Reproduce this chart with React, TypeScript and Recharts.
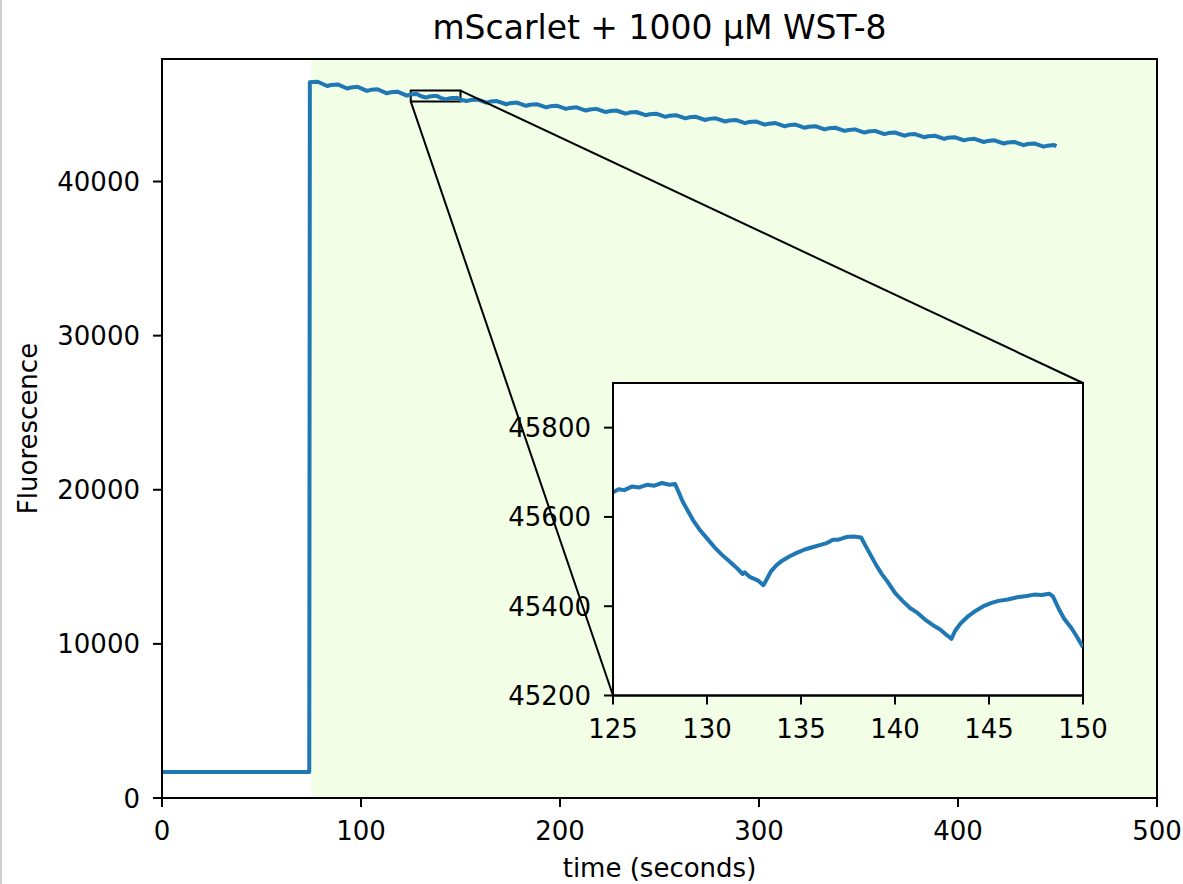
import React from "react";
import {
  Line,
  LineChart,
  ReferenceArea,
  ReferenceLine,
  XAxis,
  YAxis,
} from "recharts";

// Raw trace: baseline, excitation on at ~74 s, then slow bleaching with a 10 s sawtooth.
const RAMP_TIME = [0, 74, 74.3, 76, 78.3, 83, 85, 88.3, 93, 95, 98.3, 103, 105, 108.3, 113, 115, 118.3, 123, 124];
const RAMP_FLUOR = [
  1680, 1680, 46440, 46458, 46472, 46196, 46262, 46301, 46036, 46104, 46142, 45881, 45948, 45986, 45724, 45792,
  45829, 45569, 45612,
];

// Dense samples for the 125–150 s window shown in the inset.
const ZOOM_TIME = [
  125.0, 125.3, 125.6, 126.0, 126.4, 126.8, 127.2, 127.6, 128.0, 128.3, 128.5, 128.7, 129.0, 129.3, 129.6, 130.0,
  130.4, 130.8, 131.2, 131.6, 131.9, 132.0, 132.3, 132.7, 133.0, 133.2, 133.4, 133.7, 134.0, 134.4, 134.8, 135.2,
  135.6, 136.0, 136.4, 136.7, 137.0, 137.4, 137.8, 138.2, 138.4, 138.7, 139.0, 139.3, 139.6, 140.0, 140.4, 140.8,
  141.2, 141.6, 142.0, 142.4, 142.7, 143.0, 143.2, 143.5, 143.9, 144.3, 144.7, 145.1, 145.5, 146.0, 146.5, 147.0,
  147.4, 147.8, 148.2, 148.4, 148.7, 149.0, 149.4, 149.7, 150.0,
];
const ZOOM_FLUOR = [
  45655, 45662, 45660, 45668, 45666, 45672, 45670, 45676, 45672, 45674, 45655, 45635, 45612, 45590, 45572, 45552,
  45532, 45515, 45500, 45485, 45472, 45476, 45465, 45458, 45447, 45462, 45478, 45492, 45502, 45512, 45520, 45527,
  45532, 45537, 45542, 45549, 45549, 45555, 45556, 45554, 45538, 45515, 45492, 45472, 45455, 45430, 45412, 45396,
  45385, 45370, 45358, 45348, 45337, 45327, 45345, 45362, 45378, 45390, 45400, 45407, 45412, 45415, 45420, 45423,
  45426, 45425, 45428, 45422, 45395, 45372, 45350, 45330, 45308,
];

const DECAY_TIME = [
  153, 155, 158.3, 163, 165, 168.3, 173, 175, 178.3, 183, 185, 188.3, 193, 195, 198.3, 203, 205, 208.3, 213, 215,
  218.3, 223, 225, 228.3, 233, 235, 238.3, 243, 245, 248.3, 253, 255, 258.3, 263, 265, 268.3, 273, 275, 278.3, 283,
  285, 288.3, 293, 295, 298.3, 303, 305, 308.3, 313, 315, 318.3, 323, 325, 328.3, 333, 335, 338.3, 343, 345, 348.3,
  353, 355, 358.3, 363, 365, 368.3, 373, 375, 378.3, 383, 385, 388.3, 393, 395, 398.3, 403, 405, 408.3, 413, 415,
  418.3, 423, 425, 428.3, 433, 435, 438.3, 443, 445, 448.3, 449.5,
];
const DECAY_FLUOR = [
  45222, 45285, 45326, 45116, 45186, 45221, 45013, 45085, 45122, 44915, 44980, 45016, 44808, 44880, 44918, 44711,
  44775, 44812, 44605, 44676, 44714, 44507, 44571, 44608, 44401, 44473, 44510, 44303, 44367, 44404, 44197, 44269,
  44306, 44099, 44163, 44200, 43993, 44065, 44102, 43895, 43959, 43996, 43789, 43861, 43898, 43691, 43755, 43792,
  43585, 43657, 43694, 43487, 43551, 43588, 43381, 43453, 43490, 43283, 43347, 43384, 43177, 43249, 43286, 43079,
  43143, 43180, 42973, 43045, 43082, 42875, 42939, 42976, 42769, 42841, 42878, 42671, 42735, 42772, 42565, 42637,
  42674, 42467, 42531, 42568, 42361, 42433, 42470, 42263, 42327, 42364, 42300,
];

const X_TICKS = [0, 100, 200, 300, 400, 500];
const Y_TICKS = [0, 10000, 20000, 30000, 40000];
const ZOOM_X_TICKS = [125, 130, 135, 140, 145, 150];
const ZOOM_Y_TICKS = [45200, 45400, 45600, 45800];

const LIGHT_ON = 75;
const X_MAX = 500;
const Y_MAX = 47950;
const ZOOM_X = [125, 150];
const ZOOM_Y = [45200, 45900];

const toRows = (ts: number[], vs: number[]) => ts.map((t, i) => ({ t, v: vs[i] }));
const mainData = [
  ...toRows(RAMP_TIME, RAMP_FLUOR),
  ...toRows(ZOOM_TIME, ZOOM_FLUOR),
  ...toRows(DECAY_TIME, DECAY_FLUOR),
];
const zoomData = toRows(ZOOM_TIME, ZOOM_FLUOR);

const W = 1183;
const H = 884;
const FONT = "DejaVu Sans, sans-serif";
const FS = 26;
const BLUE = "#1f77b4";

// main plot box (px)
const P = { left: 162, right: 1157, top: 59, bottom: 798 };
// inset plot box (px)
const IN = { left: 613, right: 1083, top: 383, bottom: 695.5 };
const IN_PAD = { left: 120, top: 10, right: 50, bottom: 50 };

// pixel -> main data units, used to anchor the connector lines on the inset corners
const pxToT = (px: number) => ((px - P.left) / (P.right - P.left)) * X_MAX;
const pxToV = (py: number) => ((P.bottom - py) / (P.bottom - P.top)) * Y_MAX;

const xTick = (baseline: number) => (props: any) => (
  <text x={props.x} y={baseline} textAnchor="middle" fontSize={FS} fontFamily={FONT} fill="#000">
    {props.payload.value}
  </text>
);
const yTick = (right: number) => (props: any) => (
  <text x={right} y={props.y + 9.5} textAnchor="end" fontSize={FS} fontFamily={FONT} fill="#000">
    {props.payload.value}
  </text>
);

const axisProps = {
  axisLine: { stroke: "#000", strokeWidth: 2 },
  tickLine: { stroke: "#000", strokeWidth: 2 },
  tickSize: 9,
};

export default function App() {
  const inW = IN.right - IN.left + IN_PAD.left + IN_PAD.right;
  const inH = IN.bottom - IN.top + IN_PAD.top + IN_PAD.bottom;
  const inLeft = IN.left - IN_PAD.left;
  const inTop = IN.top - IN_PAD.top;

  return (
    <div style={{ position: "absolute", left: 0, top: 0, width: W, height: H, background: "#fff" }}>
      <div style={{ position: "absolute", left: 0, top: 0, width: 2, height: H, background: "#d0d0d0" }} />
      <LineChart
        width={W}
        height={H}
        data={mainData}
        margin={{ top: P.top, right: W - P.right, bottom: 0, left: 0 }}
      >
        <XAxis
          dataKey="t"
          type="number"
          domain={[0, X_MAX]}
          ticks={X_TICKS}
          height={H - P.bottom}
          tick={xTick(840)}
          {...axisProps}
        />
        <YAxis
          type="number"
          domain={[0, Y_MAX]}
          ticks={Y_TICKS}
          width={P.left}
          tick={yTick(140)}
          {...axisProps}
        />
        <ReferenceArea x1={LIGHT_ON} x2={X_MAX} y1={0} y2={Y_MAX} fill="#f2fee6" fillOpacity={1} />
        <ReferenceArea x1={0} x2={X_MAX} y1={0} y2={Y_MAX} fill="none" stroke="#000" strokeWidth={2} />
        <Line
          type="linear"
          dataKey="v"
          stroke={BLUE}
          strokeWidth={4}
          strokeLinejoin="round"
          dot={false}
          isAnimationActive={false}
        />
        <ReferenceArea
          x1={ZOOM_X[0]}
          x2={ZOOM_X[1]}
          y1={ZOOM_Y[0]}
          y2={ZOOM_Y[1]}
          fill="none"
          stroke="#000"
          strokeWidth={2}
        />
        <ReferenceLine
          segment={[
            { x: ZOOM_X[0], y: ZOOM_Y[0] },
            { x: pxToT(IN.left), y: pxToV(IN.bottom) },
          ]}
          stroke="#000"
          strokeWidth={2}
        />
        <ReferenceLine
          segment={[
            { x: ZOOM_X[1], y: ZOOM_Y[1] },
            { x: pxToT(IN.right), y: pxToV(IN.top) },
          ]}
          stroke="#000"
          strokeWidth={2}
        />
      </LineChart>

      <div style={{ position: "absolute", left: inLeft, top: inTop }}>
        <LineChart
          width={inW}
          height={inH}
          data={zoomData}
          margin={{ top: IN_PAD.top, right: IN_PAD.right, bottom: 0, left: 0 }}
        >
          <XAxis
            dataKey="t"
            type="number"
            domain={ZOOM_X}
            ticks={ZOOM_X_TICKS}
            height={IN_PAD.bottom}
            allowDataOverflow
            tick={xTick(IN.bottom - inTop + 42)}
            {...axisProps}
          />
          <YAxis
            type="number"
            domain={ZOOM_Y}
            ticks={ZOOM_Y_TICKS}
            width={IN_PAD.left}
            allowDataOverflow
            tick={yTick(IN_PAD.left - 22)}
            {...axisProps}
          />
          <ReferenceArea
            x1={ZOOM_X[0]}
            x2={ZOOM_X[1]}
            y1={ZOOM_Y[0]}
            y2={ZOOM_Y[1]}
            fill="#fff"
            fillOpacity={1}
            stroke="#000"
            strokeWidth={2}
          />
          <Line
            type="linear"
            dataKey="v"
            stroke={BLUE}
            strokeWidth={4}
            strokeLinejoin="round"
            dot={false}
            isAnimationActive={false}
          />
        </LineChart>
      </div>

      <svg width={W} height={H} style={{ position: "absolute", left: 0, top: 0, pointerEvents: "none" }}>
        <text x={(P.left + P.right) / 2} y={39} textAnchor="middle" fontSize={33} fontFamily={FONT} fill="#000">
          mScarlet + 1000 µM WST-8
        </text>
        <text x={(P.left + P.right) / 2} y={877} textAnchor="middle" fontSize={FS} fontFamily={FONT} fill="#000">
          time (seconds)
        </text>
        <text
          x={37}
          y={(P.top + P.bottom) / 2}
          transform={`rotate(-90 37 ${(P.top + P.bottom) / 2})`}
          textAnchor="middle"
          fontSize={FS}
          fontFamily={FONT}
          fill="#000"
        >
          Fluorescence
        </text>
      </svg>
    </div>
  );
}
